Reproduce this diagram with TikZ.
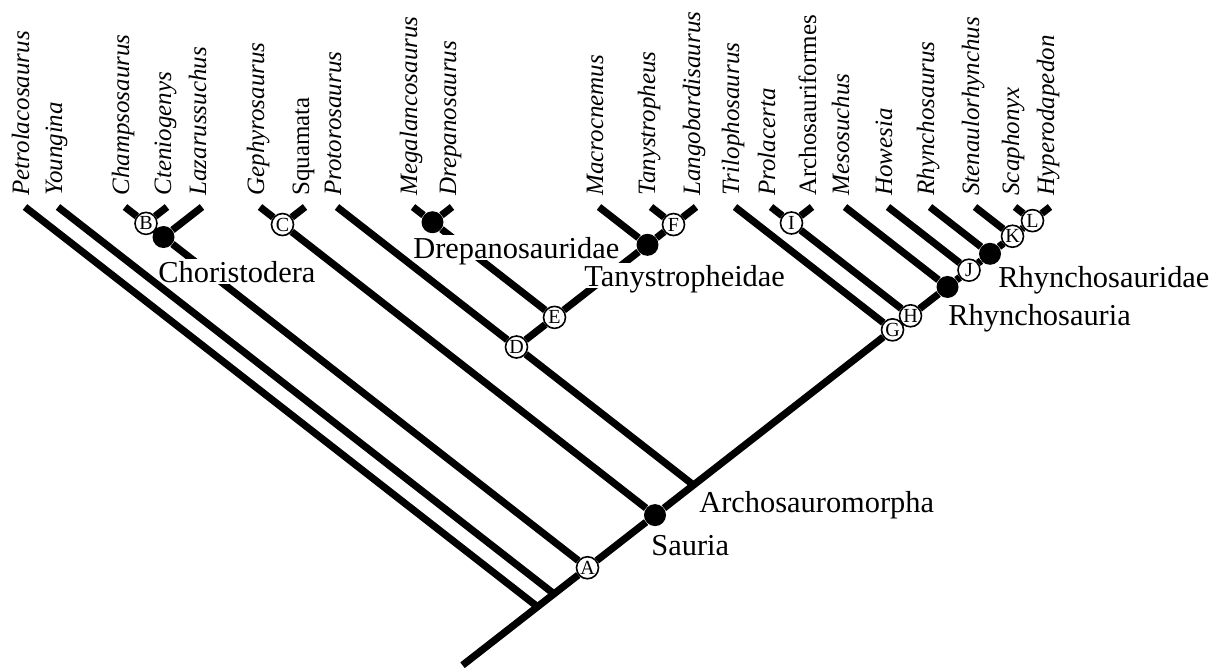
\documentclass[tikz,border=0pt]{standalone}
\usepackage{fontspec}
\setmainfont{Liberation Serif}
\usetikzlibrary{backgrounds}

\begin{document}
\begin{tikzpicture}[x=0.5pt, y=-0.5pt,
  branch/.style={line width=3.6pt},
  taxon/.style={rotate=90, anchor=base west, inner sep=0pt, font=\fontsize{12.5}{14}\selectfont\itshape},
  clade/.style={anchor=base west, fill=white, inner xsep=0.5pt, inner ysep=0.8pt, text depth=0pt, font=\fontsize{15.2}{18}\selectfont},
  blob/.style={circle, fill=black, inner sep=0pt, minimum size=11pt},
  lett/.style={circle, draw, fill=white, line width=0.8pt, inner sep=0pt, minimum size=11pt, font=\fontsize{10}{10}\selectfont}]

\useasboundingbox (0,0) rectangle (1219,668);

% tips
\coordinate (petro) at (25,207);
\coordinate (young) at (58,207);
\coordinate (champ) at (125,207);
\coordinate (cteno) at (167,207);
\coordinate (lazar) at (202,207);
\coordinate (gephy) at (260,207);
\coordinate (squam) at (305,207);
\coordinate (proto) at (337,207);
\coordinate (megal) at (413,207);
\coordinate (drepa) at (452,207);
\coordinate (macro) at (599,207);
\coordinate (tanys) at (651,207);
\coordinate (lango) at (696,207);
\coordinate (trilo) at (735,207);
\coordinate (prola) at (771,207);
\coordinate (archf) at (812,207);
\coordinate (mesos) at (845,207);
\coordinate (howes) at (888,207);
\coordinate (rhync) at (930,207);
\coordinate (stena) at (975,207);
\coordinate (scaph) at (1015,207);
\coordinate (hyper) at (1050,207);

\node (petrolab) [taxon] at (29,196) {Petrolacosaurus};
\node (younglab) [taxon] at (62,196) {Youngina};
\node (champlab) [taxon] at (129,196) {Champsosaurus};
\node (ctenolab) [taxon] at (171,196) {Cteniogenys};
\node (lazarlab) [taxon] at (206,196) {Lazarussuchus};
\node (gephylab) [taxon] at (264,196) {Gephyrosaurus};
\node (squamlab) [taxon] at (309,196) {\upshape Squamata};
\node (protolab) [taxon] at (341,196) {Protorosaurus};
\node (megallab) [taxon] at (417,196) {Megalancosaurus};
\node (drepalab) [taxon] at (456,196) {Drepanosaurus};
\node (macrolab) [taxon] at (603,196) {Macrocnemus};
\node (tanyslab) [taxon] at (655,196) {Tanystropheus};
\node (langolab) [taxon] at (700,196) {Langobardisaurus};
\node (trilolab) [taxon] at (739,196) {Trilophosaurus};
\node (prolalab) [taxon] at (775,196) {Prolacerta};
\node (archflab) [taxon] at (816,196) {\upshape Archosauriformes};
\node (mesoslab) [taxon] at (849,196) {Mesosuchus};
\node (howeslab) [taxon] at (892,196) {Howesia};
\node (rhynclab) [taxon] at (934,196) {Rhynchosaurus};
\node (stenalab) [taxon] at (979,196) {Stenaulorhynchus};
\node (scaphlab) [taxon] at (1019,196) {Scaphonyx};
\node (hyperlab) [taxon] at (1054,196) {Hyperodapedon};

% junctions
\coordinate (base) at (462.5,665.25);
\coordinate (root) at (537.5,606.75);
\coordinate (yj) at (554,593.88);
\coordinate (archo) at (693.5,485.07);

\node (chor) [blob] at (163.5,237.03) {};
\node (drep) [blob] at (432.5,222.21) {};
\node (tany) [blob] at (647.5,244.83) {};
\node (sauria) [blob] at (655,515.1) {};
\node (rhyncho) [blob] at (947.5,286.95) {};
\node (rhynchid) [blob] at (990,253.8) {};

\node (A) [lett] at (587.5,567.75) {A};
\node (B) [lett] at (146,223.38) {B};
\node (C) [lett] at (282.5,224.55) {C};
\node (D) [lett] at (516.5,347.01) {D};
\node (E) [lett] at (554.5,317.37) {E};
\node (F) [lett] at (673.5,224.55) {F};
\node (G) [lett] at (892.5,329.85) {G};
\node (H) [lett] at (910.5,315.81) {H};
\node (I) [lett] at (791.5,222.99) {I};
\node (J) [lett] at (969,270.18) {J};
\node (K) [lett] at (1012.5,236.25) {K};
\node (L) [lett] at (1032.5,220.65) {L};

% clade names
\node (chorlab) [clade] at (157,282) {Choristodera};
\node (dreplab) [clade] at (412,258) {Drepanosauridae};
\node (tanylab) [clade] at (583,286) {Tanystropheidae};
\node (archolab) [clade] at (698,512) {Archosauromorpha};
\node (saurialab) [clade] at (650,555) {Sauria};
\node (rhynchlab) [clade] at (947,325) {Rhynchosauria};
\node (rhynchidlab) [clade] at (997,287) {Rhynchosauridae};

\begin{pgfonlayer}{background}
\draw[branch] (chor) -- (A);
\draw[branch] (drep) -- (E);
\draw[branch] (tany) -- (E);
\end{pgfonlayer}

\draw[branch] (base) -- (root) -- (yj) -- (A) -- (sauria) -- (archo) -- (G) -- (H) -- (rhyncho) -- (J) -- (rhynchid) -- (K) -- (L) -- (hyper);
\draw[branch] (petro) -- (root);
\draw[branch] (young) -- (yj);
\draw[branch] (champ) -- (B) -- (chor);
\draw[branch] (cteno) -- (B);
\draw[branch] (lazar) -- (chor);
\draw[branch] (gephy) -- (C) -- (sauria);
\draw[branch] (squam) -- (C);
\draw[branch] (proto) -- (D) -- (archo);
\draw[branch] (megal) -- (drep);
\draw[branch] (drepa) -- (drep);
\draw[branch] (E) -- (D);
\draw[branch] (macro) -- (tany);
\draw[branch] (tanys) -- (F);
\draw[branch] (lango) -- (F) -- (tany);
\draw[branch] (trilo) -- (G);
\draw[branch] (prola) -- (I) -- (H);
\draw[branch] (archf) -- (I);
\draw[branch] (mesos) -- (rhyncho);
\draw[branch] (howes) -- (J);
\draw[branch] (rhync) -- (rhynchid);
\draw[branch] (stena) -- (K);
\draw[branch] (scaph) -- (L);

\end{tikzpicture}
\end{document}
